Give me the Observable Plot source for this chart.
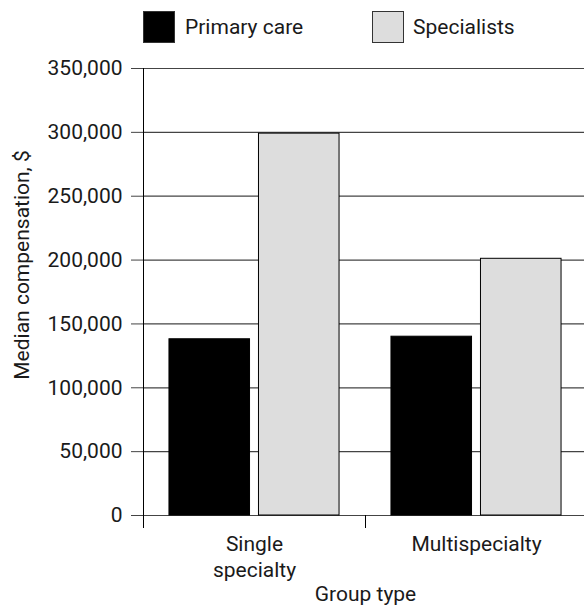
<!DOCTYPE html>
<html>
<head>
<meta charset="utf-8">
<script src="https://cdn.jsdelivr.net/npm/d3@7"></script>
<script src="https://cdn.jsdelivr.net/npm/@observablehq/plot@0.6"></script>
<style>
  html, body { margin: 0; padding: 0; background: #fff; }
  body { width: 584px; height: 607px; overflow: hidden; font-family: Roboto, sans-serif; }
  #wrap { position: relative; width: 584px; height: 607px; overflow: hidden; }
  #legend { position: relative; height: 55px; font-size: 21px; color: #1a1a1a; }
  .sw { position: absolute; top: 11px; width: 32px; height: 32px; box-sizing: border-box; }
  .lt { position: absolute; top: 27px; transform: translateY(-50%); line-height: 1; white-space: nowrap; }
  #chart svg { display: block; overflow: visible; max-width: none !important; }
</style>
</head>
<body>
<div id="wrap">
  <div id="legend"></div>
  <div id="chart"></div>
</div>
<script>
// ---- data ----
const groups = ["Single specialty", "Multispecialty"];
const groupLabels = ["Single\nspecialty", "Multispecialty"];
const series = ["Primary care", "Specialists"];
const primaryCare = [138000, 140000];
const specialists = [299000, 201000];
const yTicks = [0, 50000, 100000, 150000, 200000, 250000, 300000, 350000];
const seriesColors = ["#000000", "#dddddd"];
const yLabel = "Median compensation, $";
const xLabel = "Group type";

const data = [];
groups.forEach((g, i) => {
  data.push({group: g, series: series[0], value: primaryCare[i]});
  data.push({group: g, series: series[1], value: specialists[i]});
});

// ---- legend ----
const legend = document.getElementById("legend");
const legendPos = [{sw: 143, tx: 185}, {sw: 372, tx: 413}];
series.forEach((s, i) => {
  const sw = document.createElement("div");
  sw.className = "sw";
  sw.style.left = legendPos[i].sw + "px";
  sw.style.background = seriesColors[i];
  sw.style.border = "1px solid #333";
  legend.appendChild(sw);
  const t = document.createElement("div");
  t.className = "lt";
  t.style.left = legendPos[i].tx + "px";
  t.textContent = s;
  legend.appendChild(t);
});

// ---- chart ----
const H = 552, MT = 13, MB = 92;
const plotH = H - MT - MB;
const labelMap = new Map(groups.map((g, i) => [g, groupLabels[i]]));

const chart = Plot.plot({
  width: 590,
  height: H,
  marginTop: MT,
  marginBottom: MB,
  marginLeft: 143,
  marginRight: 3,
  style: {fontFamily: "Roboto, sans-serif", fontSize: "21px", color: "#1a1a1a", background: "transparent", maxWidth: "none"},
  fx: {domain: groups, padding: 0, label: null, round: false},
  x: {domain: series, paddingInner: 0.1, paddingOuter: 0.29, axis: null, round: false},
  y: {domain: [0, 350000], axis: null},
  color: {domain: series, range: seriesColors},
  marks: [
    Plot.gridY(yTicks, {stroke: "#444", strokeOpacity: 1, strokeWidth: 1.2}),
    Plot.barY(data, {fx: "group", x: "series", y: "value", fill: "series", stroke: "#000", strokeWidth: 1}),
    Plot.axisY(yTicks, {tickSize: 12, tickPadding: 9, tickFormat: d3.format(","), label: null, stroke: "#444", strokeOpacity: 1}),
    Plot.frame({anchor: "left", insetTop: plotH, insetBottom: -12, stroke: "#000"}),
    Plot.frame({anchor: "left", insetBottom: -12, stroke: "#000", facetAnchor: "left"}),
    Plot.text([yLabel], {text: d => d, frameAnchor: "left", textAnchor: "middle", rotate: -90, dx: -121, dy: -27, facetAnchor: "left", fill: "#1a1a1a"}),
    Plot.axisFx({
      anchor: "bottom",
      tickSize: 0,
      tickPadding: 17,
      lineHeight: 1.24,
      tickFormat: d => labelMap.get(d),
      label: xLabel,
      labelAnchor: "center",
      labelArrow: "none",
      labelOffset: 85
    })
  ]
});
document.getElementById("chart").appendChild(chart);
</script>
</body>
</html>
